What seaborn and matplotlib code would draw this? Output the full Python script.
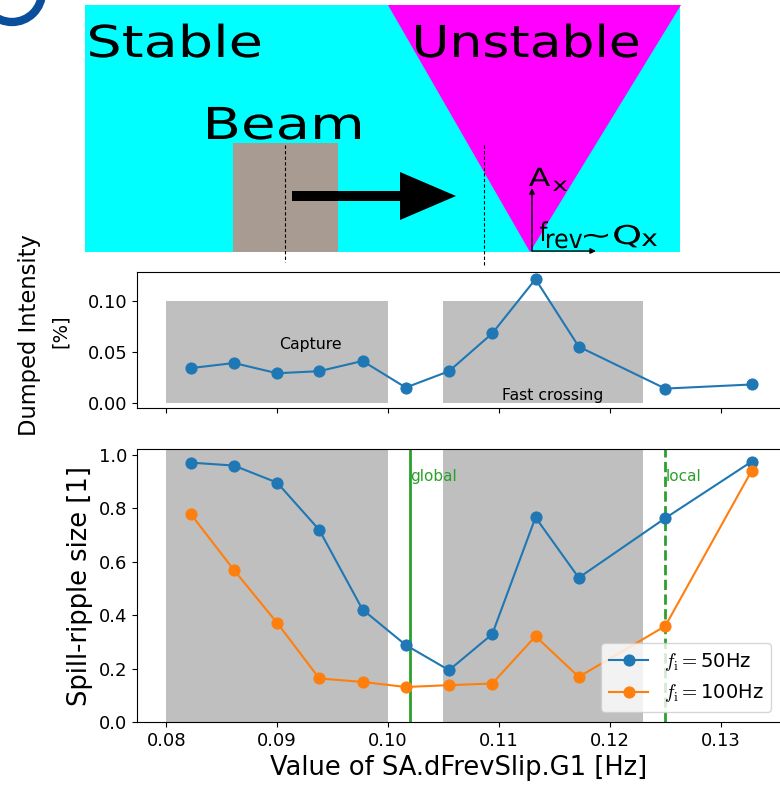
import matplotlib
matplotlib.use("Agg")
import matplotlib.pyplot as plt
import numpy as np
import pandas as pd
import seaborn as sns
from matplotlib.textpath import TextPath
from matplotlib.patches import PathPatch, Rectangle, Polygon, Circle
from matplotlib.font_manager import FontProperties
from matplotlib.transforms import Affine2D

# ---------------- data ----------------
freq = [0.0822, 0.0861, 0.0900, 0.0938, 0.0977, 0.1016, 0.1055, 0.1094,
        0.1133, 0.1172, 0.1250, 0.1328]
dumped_intensity = [0.034, 0.039, 0.029, 0.031, 0.041, 0.015, 0.031, 0.068,
                    0.121, 0.055, 0.014, 0.018]
ripple_50hz = [0.971, 0.960, 0.896, 0.719, 0.421, 0.288, 0.194, 0.329,
               0.766, 0.540, 0.763, 0.975]
ripple_100hz = [0.779, 0.569, 0.371, 0.163, 0.150, 0.131, 0.138, 0.144,
                0.321, 0.169, 0.359, 0.941]
series_labels = [r"$f_\mathrm{i} = $50Hz", r"$f_\mathrm{i} = $100Hz"]
x_ticks = [0.08, 0.09, 0.10, 0.11, 0.12, 0.13]
regions = [(0.080, 0.100), (0.105, 0.123)]
region_top = 0.10
region_labels = ["Capture", "Fast crossing"]
region_label_pos = [(0.0930, 0.057), (0.1148, 0.007)]
resonance_lines = [0.102, 0.125]
resonance_styles = ["-", "--"]
resonance_labels = ["global", "local"]

df = pd.DataFrame({"freq": freq, "dumped": dumped_intensity,
                   "r50": ripple_50hz, "r100": ripple_100hz})

plt.rcParams["font.family"] = ["DejaVu Sans"]
plt.rcParams["mathtext.fontset"] = "cm"

W, H = 780, 785
fig = plt.figure(figsize=(W / 100, H / 100), dpi=100)

# ---------------- overlay diagram ----------------
ov = fig.add_axes([0, 0, 1, 1])
ov.set_xlim(0, W)
ov.set_ylim(H, 0)
ov.axis("off")
ov.patch.set_alpha(0)


def draw_word(ax, s, x0, x1, baseline, size, color="black"):
    fp = FontProperties(family="DejaVu Sans")
    tp = TextPath((0, 0), s, size=1, prop=fp)
    ext = tp.get_extents()
    sx = (x1 - x0) / ext.width
    tr = Affine2D().scale(sx, -size).translate(x0 - ext.x0 * sx, baseline) + ax.transData
    ax.add_patch(PathPatch(tp, transform=tr, fc=color, ec="none", lw=0))


ov.add_patch(Circle((12, -8), 30, fill=False, lw=6, ec="#0b4f9c"))
ov.add_patch(Rectangle((85, 5), 595, 247, color="#00ffff", lw=0))
ov.add_patch(Polygon([(388, 5), (681, 5), (530, 252)], closed=True, color="#ff00ff", lw=0))
ov.add_patch(Rectangle((233, 143), 105, 109, color="#a89b91", lw=0))
ov.plot([285, 285], [145, 262], color="black", lw=0.8, ls=(0, (3, 2)))
ov.plot([484, 484], [145, 267], color="black", lw=0.8, ls=(0, (3, 2)))
ov.add_patch(Polygon([(292, 191), (400, 191), (400, 172), (456, 196), (400, 220),
                      (400, 201), (292, 201)], closed=True, color="black", lw=0))
ov.annotate("", xy=(532, 188), xytext=(532, 251),
            arrowprops=dict(arrowstyle="-|>", lw=1, color="black", mutation_scale=8,
                            shrinkA=0, shrinkB=0))
ov.annotate("", xy=(596, 251), xytext=(532, 251),
            arrowprops=dict(arrowstyle="-|>", lw=1, color="black", mutation_scale=8,
                            shrinkA=0, shrinkB=0))

draw_word(ov, "Stable", 90, 260, 57, 44)
draw_word(ov, "Unstable", 416, 638, 57, 44)
draw_word(ov, "Beam", 208, 360, 139, 44)
draw_word(ov, "A", 529, 550, 186, 25)
draw_word(ov, "x", 553, 567, 191, 19)
draw_word(ov, "f", 540, 548, 241, 26)
draw_word(ov, "rev", 547, 582, 248, 26)
draw_word(ov, "~Q", 584, 640, 244, 26)
draw_word(ov, "x", 642, 657, 246, 23)

fig.text(30 / W, 1 - 335 / H, "Dumped Intensity", rotation=90, ha="center",
         va="center", fontsize=16.3)
fig.text(60 / W, 1 - 331 / H, "[%]", rotation=90, ha="center", va="center",
         fontsize=14)

# ---------------- data axes ----------------
left = 137 / W
width = (781 - 137) / W
ax1 = fig.add_axes([left, 1 - 408 / H, width, (408 - 272) / H])
ax2 = fig.add_axes([left, 1 - 722 / H, width, (722 - 449) / H], sharex=ax1)

blue, orange = "#1f77b4", "#ff7f0e"

# top panel
for (a, b) in regions:
    ax1.fill_between([a, b], 0, region_top, color="gray", alpha=0.5, lw=0)
for lab, (tx, ty) in zip(region_labels, region_label_pos):
    ax1.text(tx, ty, lab, ha="center", va="center", fontsize=11.3)
sns.lineplot(data=df, x="freq", y="dumped", ax=ax1, color=blue, marker="o",
             markersize=8, markeredgecolor=blue, lw=1.5)
ax1.set_ylim(-0.005, 0.128)
ax1.set_yticks([0.0, 0.05, 0.10])
ax1.set_xlabel("")
ax1.set_ylabel("")
ax1.tick_params(labelbottom=False, labelsize=13)

# bottom panel
for (a, b) in regions:
    ax2.axvspan(a, b, color="gray", alpha=0.5, lw=0)
for xv, ls, lab in zip(resonance_lines, resonance_styles, resonance_labels):
    ax2.axvline(xv, color="tab:green", ls=ls, lw=2)
    ax2.text(xv, 0.92, lab, color="tab:green", ha="left", va="center", fontsize=11)
sns.lineplot(data=df, x="freq", y="r50", ax=ax2, color=blue, marker="o",
             markersize=8, markeredgecolor=blue, lw=1.5, label=series_labels[0])
sns.lineplot(data=df, x="freq", y="r100", ax=ax2, color=orange, marker="o",
             markersize=8, markeredgecolor=orange, lw=1.5, label=series_labels[1])
ax2.set_ylim(0, 1.022)
ax2.set_xlim(0.07736, 0.13544)
ax2.set_xticks(x_ticks)
ax2.set_xticklabels([f"{t:.2f}" for t in x_ticks])
ax2.tick_params(labelsize=13)
ax2.set_xlabel("Value of SA.dFrevSlip.G1 [Hz]", fontsize=18.5)
ax2.set_ylabel("Spill-ripple size [1]", fontsize=18.5)
ax2.legend(loc="lower right", fontsize=14)

fig.savefig("out.png", dpi=100)
